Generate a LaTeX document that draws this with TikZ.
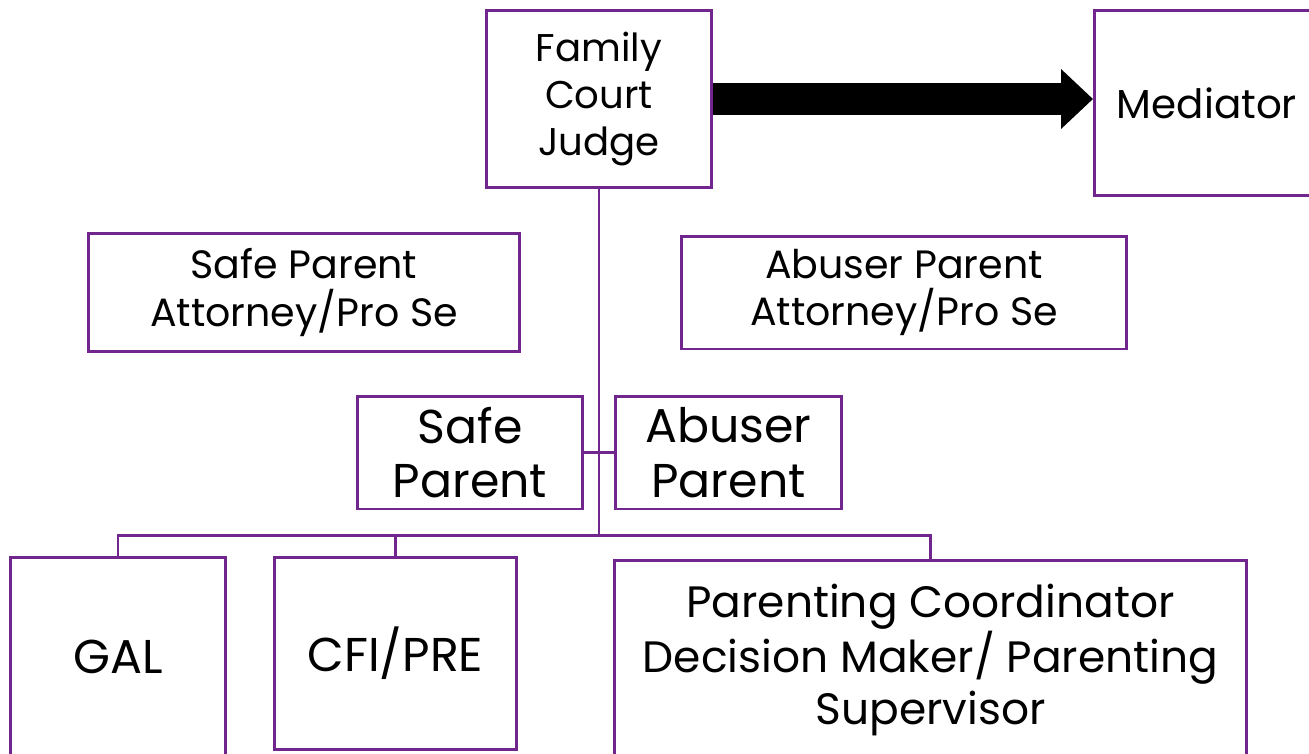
\documentclass[tikz,border=0pt]{standalone}
\usepackage{fontspec}
\setmainfont{Poppins}
\usetikzlibrary{arrows.meta, positioning}
\definecolor{boxpurple}{RGB}{112,38,140}
\tikzstyle{role}=[draw=boxpurple, line width=1.7pt, align=center, inner sep=0pt, fill=white]
\tikzstyle{link}=[draw=boxpurple, line width=1.7pt]
\tikzstyle{bigArrow}=[line width=0.66cm, -{Triangle[length=0.64cm,width=1.16cm]}]

\begin{document}
\begin{tikzpicture}[x=0.02cm, y=-0.02cm]
    \useasboundingbox (0, 0) rectangle (1309, 754);

    \node (judge)[role, minimum width=4.52cm, minimum height=3.56cm, font=\fontsize{22}{27}\selectfont] at (599, 99) {Family\\Court\\Judge};
    \node (mediator)[role, minimum width=4.5cm, minimum height=3.72cm, font=\fontsize{23}{28}\selectfont] at (1207, 103) {Mediator};

    \node (safeAtty)[role, minimum width=8.64cm, minimum height=2.38cm, font=\fontsize{22.5}{27}\selectfont] at (304, 292.5) {Safe Parent\\Attorney/Pro Se};
    \node (abuserAtty)[role, minimum width=8.92cm, minimum height=2.26cm, font=\fontsize{22.5}{27}\selectfont] at (904, 292.5) {Abuser Parent\\Attorney/Pro Se};

    \node (safeParent)[role, minimum width=4.52cm, minimum height=2.26cm, font=\fontsize{27}{31}\selectfont] at (470, 452.5) {Safe\\Parent};
    \node (abuserParent)[role, minimum width=4.54cm, minimum height=2.26cm, font=\fontsize{27}{31}\selectfont] at (728.5, 452.5) {Abuser\\Parent};

    \node (gal)[role, minimum width=4.32cm, minimum height=4cm, font=\fontsize{27}{31}\selectfont] at (118, 657) {GAL};
    \node (cfi)[role, minimum width=4.86cm, minimum height=3.86cm, font=\fontsize{27}{31}\selectfont] at (395.5, 653.5) {CFI/PRE};
    \node (coord)[role, minimum width=12.66cm, minimum height=4cm, font=\fontsize{25}{30}\selectfont] at (930.5, 660) {Parenting Coordinator\\Decision Maker/ Parenting\\Supervisor};

    \coordinate (bus) at (599, 535);

    \draw[link] (judge) -- (bus);
    \draw[link] (safeParent) -- (abuserParent);
    \draw[link] (bus) -| (gal);
    \draw[link] (bus) -| (cfi);
    \draw[link] (bus) -| (coord);

    \draw[bigArrow] (judge.east) -- (judge.east -| mediator.west);
\end{tikzpicture}
\end{document}
